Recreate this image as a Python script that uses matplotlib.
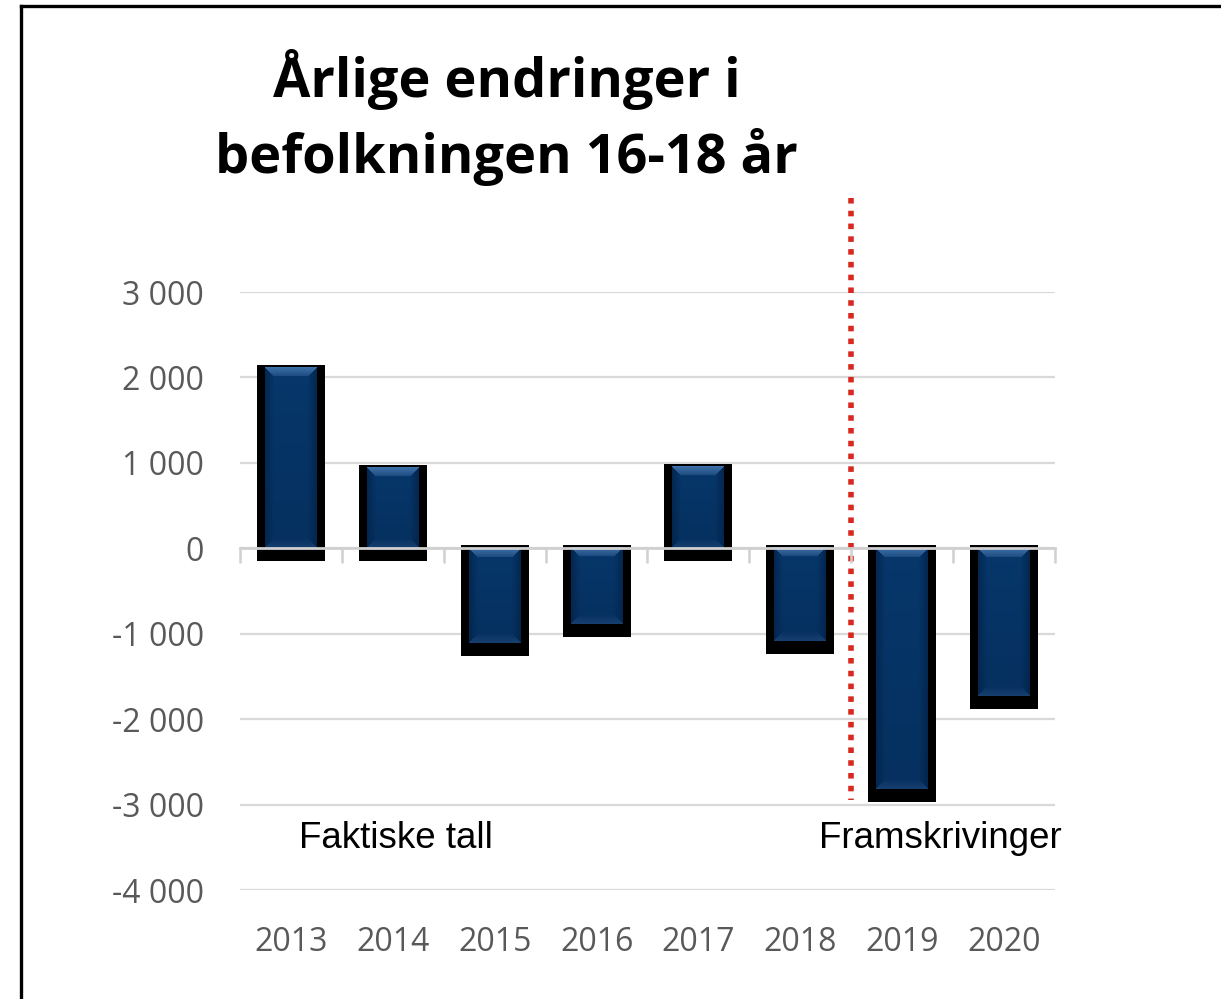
import numpy as np
import matplotlib
matplotlib.use("Agg")
import matplotlib.pyplot as plt
from matplotlib.lines import Line2D

# ---- data ----
years = ["2013", "2014", "2015", "2016", "2017", "2018", "2019", "2020"]
changes = [2110, 940, -1110, -890, 950, -1090, -2820, -1730]
yticks = [3000, 2000, 1000, 0, -1000, -2000, -3000, -4000]
ytick_labels = ["3 000", "2 000", "1 000", "0", "-1 000", "-2 000", "-3 000", "-4 000"]
title = "Årlige endringer i\nbefolkningen 16-18 år"
left_label = "Faktiske tall"
right_label = "Framskrivinger"

fig = plt.figure(figsize=(12.21, 9.99), dpi=100)
ax = fig.add_axes([0.1966, 0.1091, 0.864 - 0.1966, 0.7077 - 0.1091])

x = np.arange(len(years))
ymin, ymax = -4000, 3000
ax.set_xlim(-0.5, len(years) - 0.5)
ax.set_ylim(ymin, ymax)

# shadow / outline
pad_top = 35
pad_bot = 150
vals = np.array(changes, dtype=float)
sh_bottom = np.minimum(vals, 0) - pad_bot
sh_top = np.maximum(vals, 0) + pad_top
ax.bar(x, sh_top - sh_bottom, bottom=sh_bottom, width=0.667, color="black", zorder=3)

# bevelled blue bars via gradient images
body = np.array([6, 52, 102]) / 255.0
light = np.array([62, 112, 168]) / 255.0
dark = np.array([3, 36, 75]) / 255.0
bot_light = np.array([30, 70, 120]) / 255.0

def bevel_image(h_px, w_px, bev=8):
    img = np.zeros((h_px, w_px, 3))
    for r in range(h_px):
        t = r / max(h_px - 1, 1)
        img[r, :, :] = body * (1.05 - 0.12 * t)
    for r in range(h_px):
        for c in range(w_px):
            dt = r
            db = h_px - 1 - r
            dl = c
            dr = w_px - 1 - c
            m = min(dt, db, dl, dr)
            if m >= bev:
                continue
            if m == dt:
                f = 0.35 + 0.65 * (1 - dt / bev)
                img[r, c] = body * (1 - f) + light * f
            elif m == db:
                f = 0.7 * (1 - db / bev)
                img[r, c] = img[r, c] * (1 - f) + bot_light * f
            else:
                f = 0.8 * (1 - m / bev)
                img[r, c] = img[r, c] * (1 - f) + dark * f
    return np.clip(img, 0, 1)

px_per_unit_y = 85.4 / 1000.0
bw = 0.51
for xi, v in zip(x, vals):
    lo, hi = min(v, 0), max(v, 0)
    h_px = max(int(round((hi - lo) * px_per_unit_y)), 4)
    img = bevel_image(h_px, 52, bev=9)
    ax.imshow(img, extent=(xi - bw / 2, xi + bw / 2, lo, hi), aspect="auto",
              origin="upper", zorder=4, interpolation="bilinear")

ax.set_xlim(-0.5, len(years) - 0.5)
ax.set_ylim(ymin, ymax)

# grid
ax.set_yticks(yticks)
ax.set_yticklabels(ytick_labels)
ax.yaxis.grid(True, color="#d9d9d9", linewidth=1.6, zorder=0)
ax.set_axisbelow(True)
for s in ax.spines.values():
    s.set_visible(False)
ax.tick_params(axis="y", length=0, pad=26, labelsize=23, labelcolor="#595959")
for lab in ax.get_yticklabels():
    lab.set_fontfamily("Open Sans")

ax.set_xticks(x)
ax.set_xticklabels(years)
ax.tick_params(axis="x", length=0, pad=26, labelsize=23, labelcolor="#595959")
for lab in ax.get_xticklabels():
    lab.set_fontfamily("Open Sans")

# zero axis with boundary ticks (positioned at data value 0)
zero_frac = (0 - ymin) / (ymax - ymin)
sec = ax.secondary_xaxis(zero_frac)
sec.xaxis.set_ticks_position("bottom")
sec.set_xticks(np.arange(len(years) + 1) - 0.5)
sec.set_xticklabels([])
sec.tick_params(axis="x", which="both", length=11, width=1.8, color="#d0d0d0",
                direction="out", bottom=True, top=False)
for sp in sec.spines.values():
    sp.set_color("#d0d0d0")
    sp.set_linewidth(2.0)
sec.set_zorder(6)

# red dotted separator
ax.plot([5.5, 5.5], [4100, -2950], color="#d8281f", linewidth=4.0,
        linestyle=(0, (1, 1.3)), clip_on=False, zorder=5)

ax.text(1.03, -3400, left_label, ha="center", va="center", fontsize=26.5,
        fontfamily="Liberation Sans", color="black")
ax.text(6.38, -3400, right_label, ha="center", va="center", fontsize=26.5,
        fontfamily="Liberation Sans", color="black")

fig.text(0.415, 0.882, title, ha="center", va="center", fontsize=39,
         fontweight="bold", fontfamily="Open Sans", linespacing=1.4)

# outer border
x0 = 20.5 / 1221
y0 = 1 - 5.5 / 999
fig.add_artist(Line2D([x0, x0], [0, y0], color="black", linewidth=2.4,
                      transform=fig.transFigure))
fig.add_artist(Line2D([x0, 1], [y0, y0], color="black", linewidth=2.4,
                      transform=fig.transFigure))

fig.savefig("out.png", dpi=100, facecolor="white")
